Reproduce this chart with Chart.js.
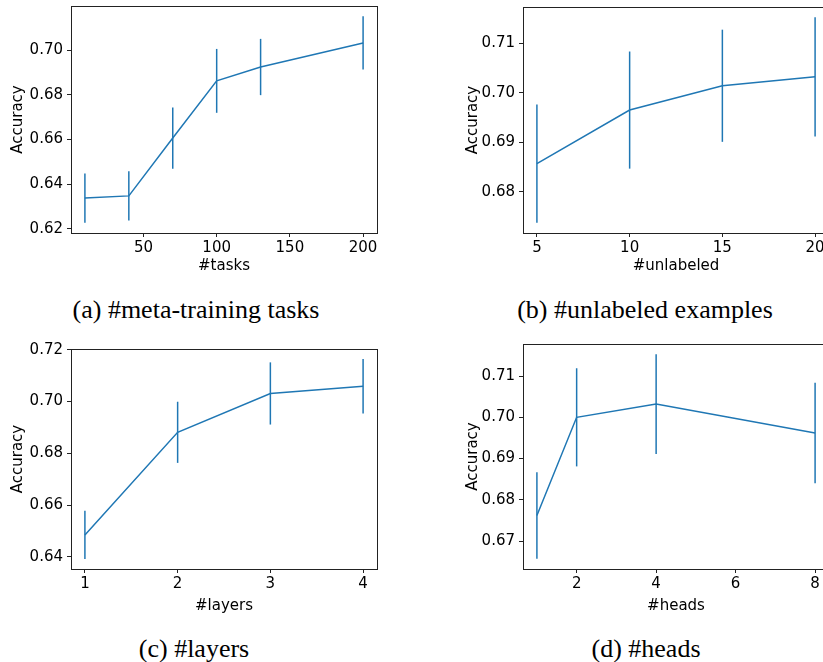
<!DOCTYPE html>
<html>
<head>
<meta charset="utf-8">
<script src="https://cdn.jsdelivr.net/npm/chart.js@4.4.0/dist/chart.umd.min.js"></script>
<style>
  html, body { margin: 0; padding: 0; background: #fff; }
  body { width: 823px; height: 662px; position: relative; overflow: hidden; }
  .panel { position: absolute; }
  .caption {
    position: absolute;
    font-family: "Liberation Serif", "Times New Roman", serif;
    font-size: 26px;
    color: #000;
    white-space: nowrap;
    transform: translate(-50%, -50%);
  }
</style>
</head>
<body>
<div class="panel" style="left:0px;top:0px"><canvas id="chartA" width="400" height="280"></canvas></div>
<div class="panel" style="left:410px;top:0px"><canvas id="chartB" width="430" height="280"></canvas></div>
<div class="panel" style="left:0px;top:330px"><canvas id="chartC" width="400" height="290"></canvas></div>
<div class="panel" style="left:410px;top:330px"><canvas id="chartD" width="430" height="290"></canvas></div>

<div class="caption" style="left:196px;top:310px">(a) #meta-training tasks</div>
<div class="caption" style="left:645px;top:310px">(b) #unlabeled examples</div>
<div class="caption" style="left:194px;top:649px">(c) #layers</div>
<div class="caption" style="left:646px;top:649px">(d) #heads</div>

<script>
// (a) number of meta-training tasks
const tasksX = [10, 40, 70, 100, 130, 200];
const tasksAcc = [0.6337, 0.6347, 0.6606, 0.6862, 0.6924, 0.7032];
const tasksErr = [0.0110, 0.0110, 0.0137, 0.0143, 0.0126, 0.0119];
const tasksXTicks = [50, 100, 150, 200];
const tasksYTicks = [0.62, 0.64, 0.66, 0.68, 0.70];

// (b) number of unlabeled examples
const unlabeledX = [5, 10, 15, 20];
const unlabeledAcc = [0.6857, 0.6965, 0.7014, 0.7032];
const unlabeledErr = [0.0119, 0.0118, 0.0113, 0.0120];
const unlabeledXTicks = [5, 10, 15, 20];
const unlabeledYTicks = [0.68, 0.69, 0.70, 0.71];

// (c) number of layers
const layersX = [1, 2, 3, 4];
const layersAcc = [0.6485, 0.6881, 0.7031, 0.7059];
const layersErr = [0.0093, 0.0118, 0.0120, 0.0105];
const layersXTicks = [1, 2, 3, 4];
const layersYTicks = [0.64, 0.66, 0.68, 0.70, 0.72];

// (d) number of heads
const headsX = [1, 2, 4, 8];
const headsAcc = [0.6762, 0.7000, 0.7032, 0.6962];
const headsErr = [0.0105, 0.0119, 0.0121, 0.0122];
const headsXTicks = [2, 4, 6, 8];
const headsYTicks = [0.67, 0.68, 0.69, 0.70, 0.71];

const blue = '#1f77b4';
const ink = '#222';
const tickFont = { family: 'DejaVu Sans', size: 15 };

// vertical error bars, drawn through the chart's scales
const errorBars = {
  id: 'errorBars',
  afterDatasetsDraw(chart) {
    const { ctx, scales } = chart;
    const src = chart.options.plugins.errorBars;
    ctx.save();
    ctx.strokeStyle = blue;
    ctx.lineWidth = 1.5;
    src.x.forEach((xv, i) => {
      const px = scales.x.getPixelForValue(xv);
      ctx.beginPath();
      ctx.moveTo(px, scales.y.getPixelForValue(src.y[i] + src.err[i]));
      ctx.lineTo(px, scales.y.getPixelForValue(src.y[i] - src.err[i]));
      ctx.stroke();
    });
    ctx.restore();
  }
};

// matplotlib style box round the plot area
const frame = {
  id: 'frame',
  afterDraw(chart) {
    const a = chart.chartArea;
    const ctx = chart.ctx;
    ctx.save();
    ctx.strokeStyle = ink;
    ctx.lineWidth = 1;
    ctx.strokeRect(Math.round(a.left) + 0.5, Math.round(a.top) + 0.5,
      Math.round(a.right - a.left), Math.round(a.bottom - a.top));
    ctx.restore();
  }
};

function limits(vals, pad) {
  const lo = Math.min(...vals), hi = Math.max(...vals);
  const m = (hi - lo) * pad;
  return [lo - m, hi + m];
}

function makePanel(id, xs, ys, errs, xTicks, yTicks, xTitle, box) {
  const canvas = document.getElementById(id);
  const W = canvas.width, H = canvas.height;
  const [xMin, xMax] = limits(xs, 0.05);
  const [yMin, yMax] = limits(ys.map((v, i) => v - errs[i]).concat(ys.map((v, i) => v + errs[i])), 0.05);

  new Chart(canvas, {
    type: 'line',
    data: {
      datasets: [{
        data: xs.map((x, i) => ({ x: x, y: ys[i] })),
        borderColor: blue,
        borderWidth: 1.5,
        pointRadius: 0,
        tension: 0,
        fill: false
      }]
    },
    options: {
      responsive: false,
      animation: false,
      devicePixelRatio: 1,
      layout: { padding: { left: box.padLeft, top: box.top, right: W - box.right, bottom: 0 } },
      plugins: {
        legend: { display: false },
        tooltip: { enabled: false },
        errorBars: { x: xs, y: ys, err: errs }
      },
      scales: {
        x: {
          type: 'linear',
          min: xMin,
          max: xMax,
          afterBuildTicks: s => { s.ticks = xTicks.map(v => ({ value: v })); },
          afterFit: s => { s.height = H - box.bottom; s.paddingLeft = 0; s.paddingRight = 0; },
          grid: { display: true, drawOnChartArea: false, drawTicks: true, tickLength: 4, tickColor: ink, tickWidth: 1 },
          border: { display: false },
          ticks: { color: '#000', font: tickFont, padding: 2, maxRotation: 0, autoSkip: false },
          title: { display: true, text: xTitle, color: '#000', font: tickFont, padding: { top: 0, bottom: 5 } }
        },
        y: {
          type: 'linear',
          min: yMin,
          max: yMax,
          afterBuildTicks: s => { s.ticks = yTicks.filter(v => v >= yMin && v <= yMax).map(v => ({ value: v })); },
          afterFit: s => { s.width = box.left - box.padLeft; s.paddingTop = 0; s.paddingBottom = 0; },
          grid: { display: true, drawOnChartArea: false, drawTicks: true, tickLength: 4, tickColor: ink, tickWidth: 1 },
          border: { display: false },
          ticks: { color: '#000', font: tickFont, padding: 4, autoSkip: false, callback: v => v.toFixed(2) },
          title: { display: true, text: 'Accuracy', color: '#000', font: tickFont, padding: { top: 9, bottom: 0 } }
        }
      }
    },
    plugins: [errorBars, frame]
  });
}

makePanel('chartA', tasksX, tasksAcc, tasksErr, tasksXTicks, tasksYTicks, '#tasks',
  { padLeft: 0, left: 71, top: 6, right: 377, bottom: 233 });
makePanel('chartB', unlabeledX, unlabeledAcc, unlabeledErr, unlabeledXTicks, unlabeledYTicks, '#unlabeled',
  { padLeft: 45, left: 113, top: 7, right: 419, bottom: 233 });
makePanel('chartC', layersX, layersAcc, layersErr, layersXTicks, layersYTicks, '#layers',
  { padLeft: 0, left: 71, top: 19, right: 377, bottom: 239 });
makePanel('chartD', headsX, headsAcc, headsErr, headsXTicks, headsYTicks, '#heads',
  { padLeft: 45, left: 113, top: 14, right: 419, bottom: 239 });
</script>
</body>
</html>
